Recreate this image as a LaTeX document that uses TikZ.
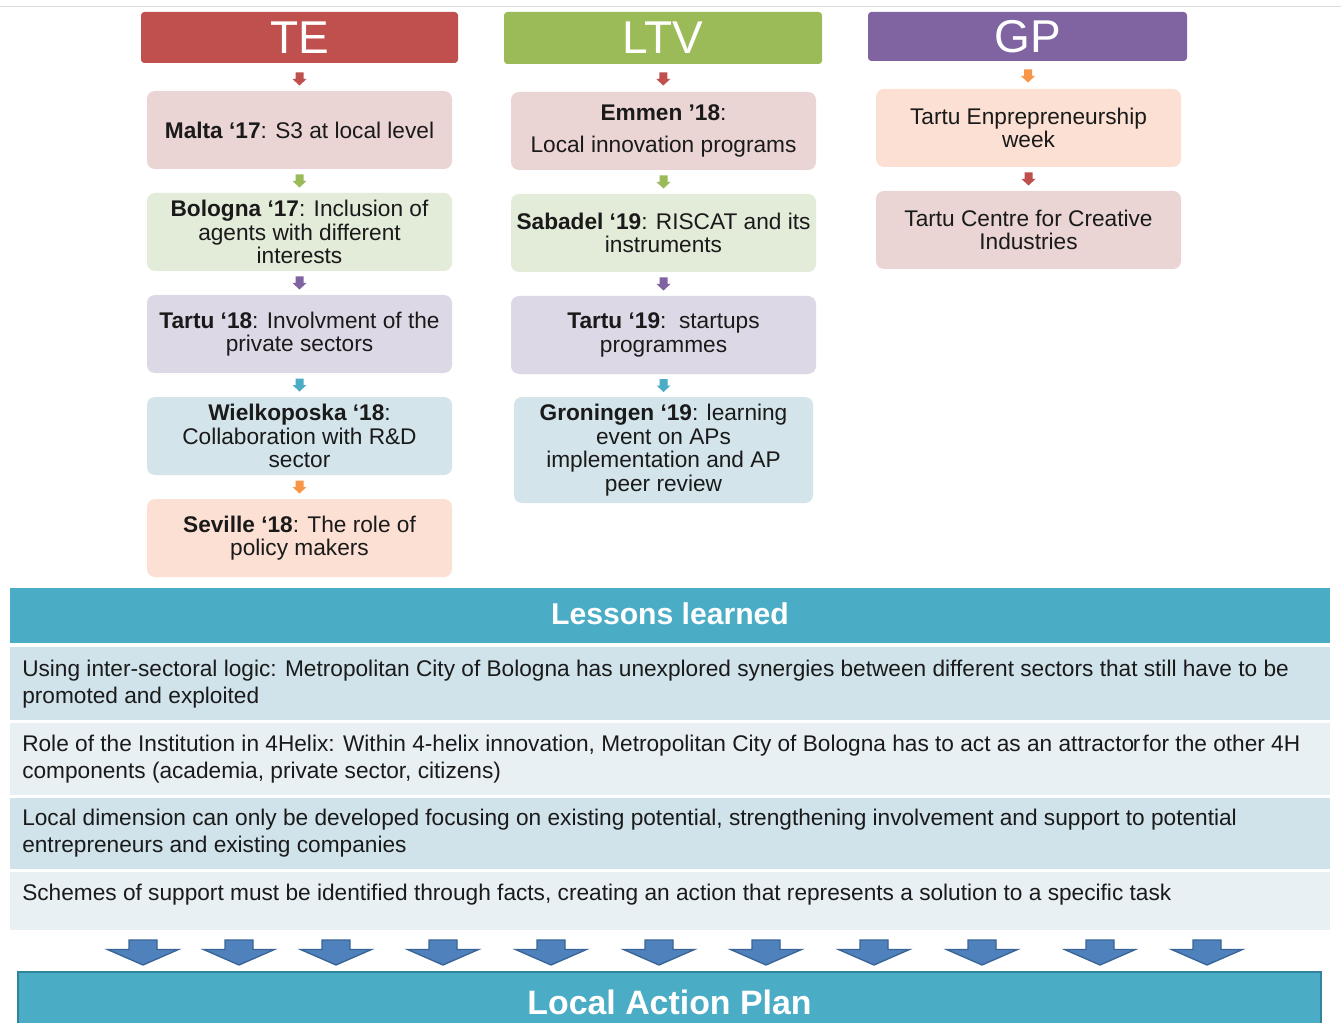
\documentclass[tikz,border=0pt]{standalone}
\usepackage{fontspec}
\setmainfont{Liberation Sans}
\usetikzlibrary{calc}
\definecolor{tered}{HTML}{C0504D}
\definecolor{ltvgreen}{HTML}{9BBB59}
\definecolor{gppurple}{HTML}{8064A2}
\definecolor{acyan}{HTML}{4BACC6}
\definecolor{aorange}{HTML}{F79646}
\definecolor{bpink}{HTML}{EAD4D4}
\definecolor{bgreen}{HTML}{E3EBD9}
\definecolor{blav}{HTML}{DDD8E5}
\definecolor{bblue}{HTML}{D3E4EB}
\definecolor{bpeach}{HTML}{FBE0D3}
\definecolor{rowdark}{HTML}{D0E3EA}
\definecolor{rowlight}{HTML}{E9F0F4}
\definecolor{lessons}{HTML}{4BACC6}
\definecolor{bigarrfill}{HTML}{4F81BD}
\definecolor{bigarrline}{HTML}{3A6496}
\definecolor{lapline}{HTML}{31849B}
\definecolor{txt}{HTML}{1A1A1A}
\begin{document}
\begin{tikzpicture}[x=0.75pt,y=-0.75pt,
  header/.style={rounded corners=2.5pt, text=white, inner sep=0pt,
    font=\fontsize{34.5}{36}\selectfont},
  stepbox/.style={rounded corners=6pt, inner sep=0pt, minimum width=228.75pt,
    minimum height=58.5pt, align=center, text=txt,
    font=\fontsize{17}{17.6}\selectfont},
  rowbox/.style={inner sep=0pt, minimum width=990pt},
  rowtext/.style={anchor=west, align=left, inner sep=0pt, text=txt,
    font=\fontsize{17}{20.25}\selectfont},
  smallarr/.pic={\path[pic actions] (-4,-6.5) -- (4,-6.5) -- (4,0) -- (7,0) -- (0,6.5) -- (-7,0) -- (-4,0) -- cycle;},
  bigarr/.pic={\path[fill=bigarrfill, draw=bigarrline, line width=1pt, line join=miter]
    (-14,-12.5) -- (14,-12.5) -- (14,-3) -- (35.5,-3) -- (0,12.5) -- (-35.5,-3) -- (-14,-3) -- cycle;}
]
\useasboundingbox (0,0) rectangle (1341,1023);
\clip (0,0) rectangle (1341,1023);
\fill[white] (0,0) rectangle (1341,1023);
\draw[black!14, line width=0.75pt] (0,7) -- (1341,7);

% headers
\node[header, fill=tered, minimum width=237.75pt, minimum height=38.25pt] (te) at (299.5,37.5) {TE};
\node[header, fill=ltvgreen, minimum width=238.5pt, minimum height=39pt] (ltv) at (663,38) {LTV};
\node[header, fill=gppurple, minimum width=239.25pt, minimum height=36.75pt] (gp) at (1027.5,36.5) {GP};

% TE column
\node[stepbox, fill=bpink] (malta) at (299.5,130) {\textbf{Malta ‘17}: S3 at local level};
\node[stepbox, fill=bgreen] (bologna) at (299.5,232) {\textbf{Bologna ‘17}: Inclusion of\\agents with different\\interests};
\node[stepbox, fill=blav] (tartua) at (299.5,334) {\textbf{Tartu ‘18}: Involvment of the\\private sectors};
\node[stepbox, fill=bblue] (wielk) at (299.5,436) {\textbf{Wielkoposka ‘18}:\\Collaboration with R\&D\\sector};
\node[stepbox, fill=bpeach] (seville) at (299.5,538) {\textbf{Seville ‘18}: The role of\\policy makers};

% LTV column
\node[stepbox, fill=bpink] (emmen) at (663.5,131) {\raisebox{-2pt}{\textbf{Emmen ’18}:}\\[6.5pt]\raisebox{-2pt}{Local innovation programs}};
\node[stepbox, fill=bgreen] (sabadel) at (663.5,233) {\textbf{Sabadel ‘19}: RISCAT and its\\instruments};
\node[stepbox, fill=blav] (tartub) at (663.5,335) {\textbf{Tartu ‘19}:\ \ startups\\programmes};
\node[stepbox, fill=bblue, minimum width=224.25pt, minimum height=79.5pt] (groningen) at (663.5,450) {\textbf{Groningen ‘19}: learning\\event on APs\\implementation and AP\\peer review};

% GP column
\node[stepbox, fill=bpeach] (tew) at (1028.5,128) {Tartu Enprepreneurship\\week};
\node[stepbox, fill=bpink] (tcci) at (1028.5,230) {Tartu Centre for Creative\\Industries};

% small arrows
\pic[fill=tered] at ($(te.south)!0.5!(malta.north)+(0,2)$) {smallarr};
\pic[fill=ltvgreen] at ($(malta.south)!0.5!(bologna.north)$) {smallarr};
\pic[fill=gppurple] at ($(bologna.south)!0.5!(tartua.north)$) {smallarr};
\pic[fill=acyan] at ($(tartua.south)!0.5!(wielk.north)$) {smallarr};
\pic[fill=aorange] at ($(wielk.south)!0.5!(seville.north)$) {smallarr};

\pic[fill=tered] at ($(ltv.south)!0.5!(emmen.north)+(0,1)$) {smallarr};
\pic[fill=ltvgreen] at ($(emmen.south)!0.5!(sabadel.north)$) {smallarr};
\pic[fill=gppurple] at ($(sabadel.south)!0.5!(tartub.north)$) {smallarr};
\pic[fill=acyan] at ($(tartub.south)!0.5!(groningen.north)$) {smallarr};

\pic[fill=aorange] at ($(gp.south)!0.5!(tew.north)+(0,1)$) {smallarr};
\pic[fill=tered] at ($(tew.south)!0.5!(tcci.north)$) {smallarr};

% lessons learned
\node[rowbox, fill=lessons, minimum height=41.25pt] (lessons) at (670,615.5) {};
\node[text=white, inner sep=0pt, font=\fontsize{22.6}{24}\bfseries] (lessonstext) at (670,613.5) {Lessons learned};
\node[rowbox, fill=rowdark, minimum height=54.75pt] (r1) at (670,683.5) {};
\node[rowbox, fill=rowlight, minimum height=54pt] (r2) at (670,759) {};
\node[rowbox, fill=rowdark, minimum height=53.25pt] (r3) at (670,833.5) {};
\node[rowbox, fill=rowlight, minimum height=43.5pt] (r4) at (670,901) {};

\node[rowtext] (t1) at (22,684.5) {Using inter-sectoral logic: Metropolitan City of Bologna has unexplored synergies between different sectors that still have to be\\promoted and exploited};
\node[rowtext] (t2) at (22,759.5) {Role of the Institution in 4Helix: Within 4-helix innovation, Metropolitan City of Bologna has to act as an attracto\kern-1pt r\kern-3pt{} for the other 4H\\components (academia, private sector, citizens)};
\node[rowtext] (t3) at (22,833.5) {Local dimension can only be developed focusing on existing potential, strengthening involvement and support to potential\\entrepreneurs and existing companies};
\node[rowtext] (t4) at (22,895) {Schemes of support must be identified through facts, creating an action that represents a solution to a specific task};

% big arrows
\foreach \xx in {143,239,336,443,551,659,766,874,982,1100,1207}
  \pic at (\xx,952.5) {bigarr};

% local action plan
\node[fill=lessons, draw=lapline, line width=1.5pt, inner sep=0pt,
  minimum width=977.25pt, minimum height=45pt, text=white,
  font=\fontsize{25.4}{27}\bfseries] (lap) at (669.5,1002) {Local Action Plan};
\end{tikzpicture}
\end{document}
